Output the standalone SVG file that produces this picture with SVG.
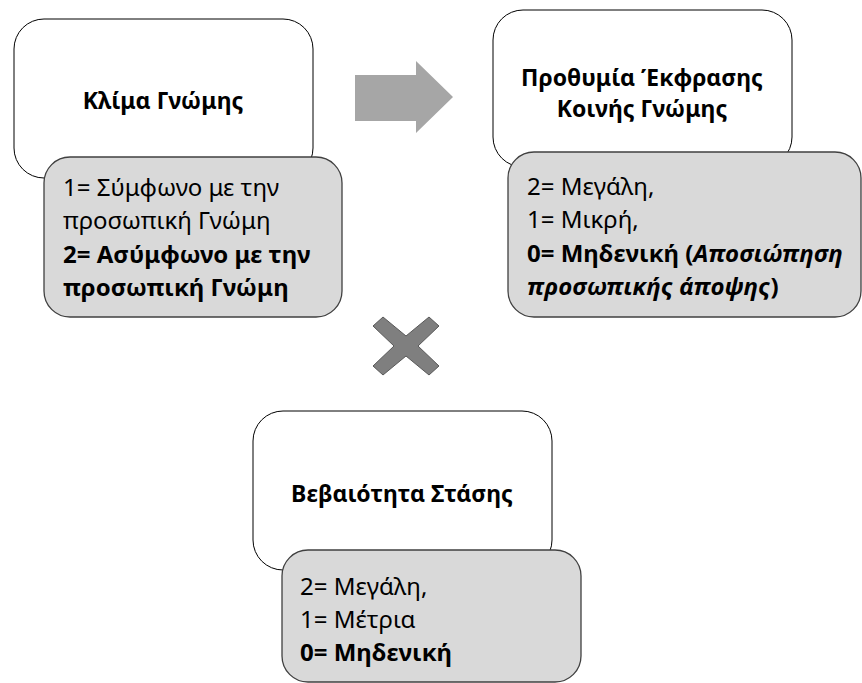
<svg xmlns="http://www.w3.org/2000/svg" width="862" height="683" viewBox="0 0 862 683">
<style>
.main{fill:#ffffff;stroke:#000000;stroke-width:1}
.sub{fill:#d9d9d9;stroke:#404040;stroke-width:1.3}
.t{font-family:"Noto Sans","Open Sans",sans-serif;font-size:24px;fill:#000}
.h{font-family:"Noto Sans","Open Sans",sans-serif;font-size:23px;font-weight:bold;fill:#000;text-anchor:middle}
.b{font-weight:bold}
</style>
<rect width="862" height="683" fill="#ffffff"/>
<g id="connectors">
<path d="M355,75 H416 V61 L453,97 L416,133 V121 H355 Z" fill="#a6a6a6"/>
<path d="M383,317 L406,336 L429,317 L439,326 L418,346 L439,366 L429,375 L406,356 L383,375 L373,366 L394,346 L373,326 Z" fill="#7f7f7f" stroke="#595959" stroke-width="1"/>
</g>
<g id="node-klima">
<rect class="main" x="14" y="19" width="299" height="159" rx="30"/>
<text class="h" x="163" y="109">Κλίμα Γνώμης</text>
<rect class="sub" x="44" y="157" width="298" height="160" rx="26"/>
<text class="t" x="63" y="196">1= Σύμφωνο με την</text>
<text class="t" x="63" y="229">προσωπική Γνώμη</text>
<text class="t b" x="63" y="263">2= Ασύμφωνο με την</text>
<text class="t b" x="63" y="296">προσωπική Γνώμη</text>
</g>
<g id="node-prothymia">
<rect class="main" x="493" y="10" width="299" height="157" rx="30"/>
<text class="h" x="642" y="86">Προθυμία Έκφρασης</text>
<text class="h" x="642" y="117">Κοινής Γνώμης</text>
<rect class="sub" x="508" y="152" width="353" height="165" rx="26"/>
<text class="t" x="527" y="195">2= Μεγάλη,</text>
<text class="t" x="527" y="228">1= Μικρή,</text>
<text class="t b" x="527" y="262">0= Μηδενική (<tspan font-style="italic">Αποσιώπηση</tspan></text>
<text class="t b" x="527" y="295"><tspan font-style="italic">προσωπικής άποψης</tspan>)</text>
</g>
<g id="node-vevaiotita">
<rect class="main" x="253" y="411" width="299" height="159" rx="30"/>
<text class="h" x="402" y="502">Βεβαιότητα Στάσης</text>
<rect class="sub" x="282" y="550" width="299" height="132" rx="26"/>
<text class="t" x="300" y="595">2= Μεγάλη,</text>
<text class="t" x="300" y="628">1= Μέτρια</text>
<text class="t b" x="300" y="661">0= Μηδενική</text>
</g>
</svg>
